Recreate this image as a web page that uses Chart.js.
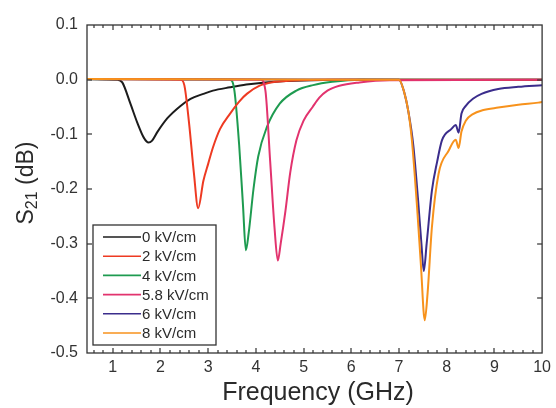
<!DOCTYPE html>
<html>
<head>
<meta charset="utf-8">
<script src="https://cdn.jsdelivr.net/npm/chart.js@4.4.0/dist/chart.umd.min.js"></script>
<style>
  html, body { margin: 0; padding: 0; background: #fff; }
  #wrap { width: 556px; height: 408px; }
</style>
</head>
<body>
<div id="wrap"><canvas id="chart" width="556" height="408"></canvas></div>
<script>
// field strengths shown in the legend
const fieldLabels = ['0 kV/cm', '2 kV/cm', '4 kV/cm', '5.8 kV/cm', '6 kV/cm', '8 kV/cm'];
const lineColors = ['#1c1c1c', '#ee3a22', '#1e9b50', '#e2336e', '#3b2d8c', '#f7921c'];
// which trace ends up on top where they overlap at 0 dB (lower = on top)
const drawOrder = [5, 2, 3, 1, 4, 0];

// tick labels
const xTickValues = [1, 2, 3, 4, 5, 6, 7, 8, 9, 10];

// S21 (dB) vs frequency (GHz)
const freq0 = [0.46, 1.1, 1.2, 1.37, 1.52, 1.65, 1.75, 1.82, 1.94, 2.15, 2.42, 2.63, 2.9, 3.1, 3.46, 3.8, 4.2, 4.8, 6, 10];
const s21_0 = [0.001, 0, -0.005, -0.044, -0.08, -0.106, -0.115, -0.112, -0.095, -0.07, -0.048, -0.035, -0.026, -0.02, -0.014, -0.009, -0.005, -0.002, 0, 0];

const freq2 = [0.46, 2.42, 2.5, 2.6, 2.7, 2.79, 2.9, 3.0, 3.1, 3.25, 3.46, 3.65, 3.81, 4.08, 4.4, 4.7, 5.5, 10];
const s21_2 = [0.001, 0, -0.01, -0.08, -0.17, -0.235, -0.185, -0.154, -0.124, -0.09, -0.062, -0.04, -0.026, -0.011, -0.004, -0.002, 0, 0];

const freq4 = [0.46, 3.45, 3.55, 3.65, 3.73, 3.79, 3.85, 3.95, 4.05, 4.23, 4.5, 4.85, 5.2, 5.6, 6.2, 10];
const s21_4 = [0.001, 0, -0.02, -0.12, -0.23, -0.312, -0.28, -0.2, -0.14, -0.087, -0.044, -0.02, -0.01, -0.004, 0, 0];

const freq58 = [0.46, 4.1, 4.2, 4.3, 4.39, 4.46, 4.52, 4.62, 4.72, 4.85, 5.0, 5.19, 5.33, 5.5, 5.75, 6.17, 6.8, 10];
const s21_58 = [0.001, 0, -0.02, -0.15, -0.27, -0.331, -0.3, -0.24, -0.17, -0.111, -0.075, -0.05, -0.033, -0.02, -0.011, -0.005, -0.001, 0];

const freq6 = [0.46, 7.0, 7.1, 7.2, 7.3, 7.4, 7.47, 7.52, 7.58, 7.69, 7.8, 7.9, 8.1, 8.19, 8.25, 8.31, 8.4, 8.55, 8.73, 9.08, 9.5, 10];
const s21_6 = [0.001, 0, -0.02, -0.06, -0.12, -0.22, -0.3, -0.35, -0.3, -0.203, -0.15, -0.111, -0.09, -0.083, -0.097, -0.062, -0.048, -0.035, -0.026, -0.017, -0.013, -0.01];

const freq8 = [0.46, 7.0, 7.1, 7.2, 7.27, 7.38, 7.46, 7.54, 7.6, 7.69, 7.83, 8.04, 8.19, 8.25, 8.31, 8.4, 8.55, 8.75, 9.08, 9.5, 9.92, 10];
const s21_8 = [0.001, 0, -0.02, -0.06, -0.11, -0.234, -0.34, -0.44, -0.39, -0.27, -0.172, -0.13, -0.11, -0.125, -0.095, -0.075, -0.063, -0.056, -0.051, -0.046, -0.042, -0.041];

const freqSets = [freq0, freq2, freq4, freq58, freq6, freq8];
const s21Sets = [s21_0, s21_2, s21_4, s21_58, s21_6, s21_8];

const xMin = 0.46, xMax = 10;
const yMin = -0.5, yMax = 0.1;

const FONT = "'Liberation Sans', Arial, sans-serif";
const INK = '#333';

function toPoints(xs, ys) {
    return xs.map((x, i) => ({ x: x, y: ys[i] }));
}

const datasets = fieldLabels.map((label, i) => ({
    label: label,
    data: toPoints(freqSets[i], s21Sets[i]),
    borderColor: lineColors[i],
    borderWidth: 2,
    pointRadius: 0,
    order: drawOrder[i],
    cubicInterpolationMode: 'monotone',
    fill: false
}));

// frame, inward ticks, axis titles and the boxed legend
const decorations = {
    id: 'decorations',
    afterDatasetsDraw(chart) {
        const ctx = chart.ctx;
        const area = chart.chartArea;
        const xs = chart.scales.x;
        const ys = chart.scales.y;
        ctx.save();
        ctx.strokeStyle = INK;
        ctx.lineWidth = 1.3;
        ctx.strokeRect(area.left, area.top, area.right - area.left, area.bottom - area.top);

        ctx.fillStyle = INK;
        // x ticks: majors every 1, minors every 0.2
        for (let k = 3; k < 50; k++) {
            const v = k * 0.2;
            if (v >= xMax - 0.01) break;
            const len = k % 5 === 0 ? 5 : 3;
            const px = Math.round(xs.getPixelForValue(v));
            ctx.fillRect(px - 0.6, area.bottom - len, 1.2, len);
            ctx.fillRect(px - 0.6, area.top, 1.2, len);
        }
        // y ticks every 0.1
        ys.ticks.forEach(t => {
            if (t.value <= yMin + 1e-6 || t.value >= yMax - 1e-6) return;
            const py = Math.round(ys.getPixelForValue(t.value));
            ctx.fillRect(area.left, py - 0.6, 5, 1.2);
            ctx.fillRect(area.right - 5, py - 0.6, 5, 1.2);
        });

        // legend box
        const box = { left: 93, top: 225, width: 123, height: 120 };
        ctx.fillStyle = '#fff';
        ctx.fillRect(box.left, box.top, box.width, box.height);
        ctx.strokeStyle = INK;
        ctx.lineWidth = 1.3;
        ctx.strokeRect(box.left, box.top, box.width, box.height);
        ctx.font = '15px ' + FONT;
        ctx.textBaseline = 'middle';
        ctx.textAlign = 'left';
        chart.data.datasets.forEach((ds, i) => {
            const cy = box.top + 12 + i * 19.2;
            ctx.strokeStyle = ds.borderColor;
            ctx.lineWidth = 1.6;
            ctx.beginPath();
            ctx.moveTo(box.left + 10, cy);
            ctx.lineTo(box.left + 48, cy);
            ctx.stroke();
            ctx.fillStyle = '#2a2a2a';
            ctx.fillText(ds.label, box.left + 49, cy + 1);
        });

        // x title
        ctx.fillStyle = '#2a2a2a';
        ctx.font = '25px ' + FONT;
        ctx.textAlign = 'center';
        ctx.textBaseline = 'alphabetic';
        ctx.fillText('Frequency (GHz)', 318, 400);

        // y title with subscript
        ctx.translate(33, 183);
        ctx.rotate(-Math.PI / 2);
        const bigFont = '23px ' + FONT;
        const smallFont = '16px ' + FONT;
        ctx.font = bigFont;
        const wS = ctx.measureText('S').width;
        const wRest = ctx.measureText(' (dB)').width;
        ctx.font = smallFont;
        const wSub = ctx.measureText('21').width;
        let x0 = -(wS + wSub + wRest) / 2;
        ctx.textAlign = 'left';
        ctx.font = bigFont;
        ctx.fillText('S', x0, 0);
        ctx.font = smallFont;
        ctx.fillText('21', x0 + wS, 4);
        ctx.font = bigFont;
        ctx.fillText(' (dB)', x0 + wS + wSub, 0);
        ctx.restore();
    }
};

new Chart(document.getElementById('chart'), {
    type: 'line',
    data: { datasets: datasets },
    options: {
        responsive: false,
        animation: false,
        layout: { padding: { top: 25, right: 11, left: 0, bottom: 0 } },
        plugins: {
            legend: { display: false },
            tooltip: { enabled: false }
        },
        scales: {
            x: {
                type: 'linear',
                min: xMin,
                max: xMax,
                grid: { display: false, drawTicks: false },
                border: { display: false },
                afterBuildTicks: scale => {
                    scale.ticks = xTickValues.map(v => ({ value: v }));
                },
                ticks: {
                    autoSkip: false,
                    maxRotation: 0,
                    padding: 5,
                    color: '#333',
                    font: { family: FONT, size: 16 },
                    callback: v => String(v)
                },
                afterFit: scale => { scale.height = 55; }
            },
            y: {
                min: yMin,
                max: yMax,
                grid: { display: false, drawTicks: false },
                border: { display: false },
                ticks: {
                    stepSize: 0.1,
                    padding: 9,
                    color: '#333',
                    font: { family: FONT, size: 16 },
                    callback: v => (Math.abs(v) < 1e-9 ? 0 : v).toFixed(1)
                },
                afterFit: scale => { scale.width = 87; }
            }
        }
    },
    plugins: [decorations]
});
</script>
</body>
</html>
